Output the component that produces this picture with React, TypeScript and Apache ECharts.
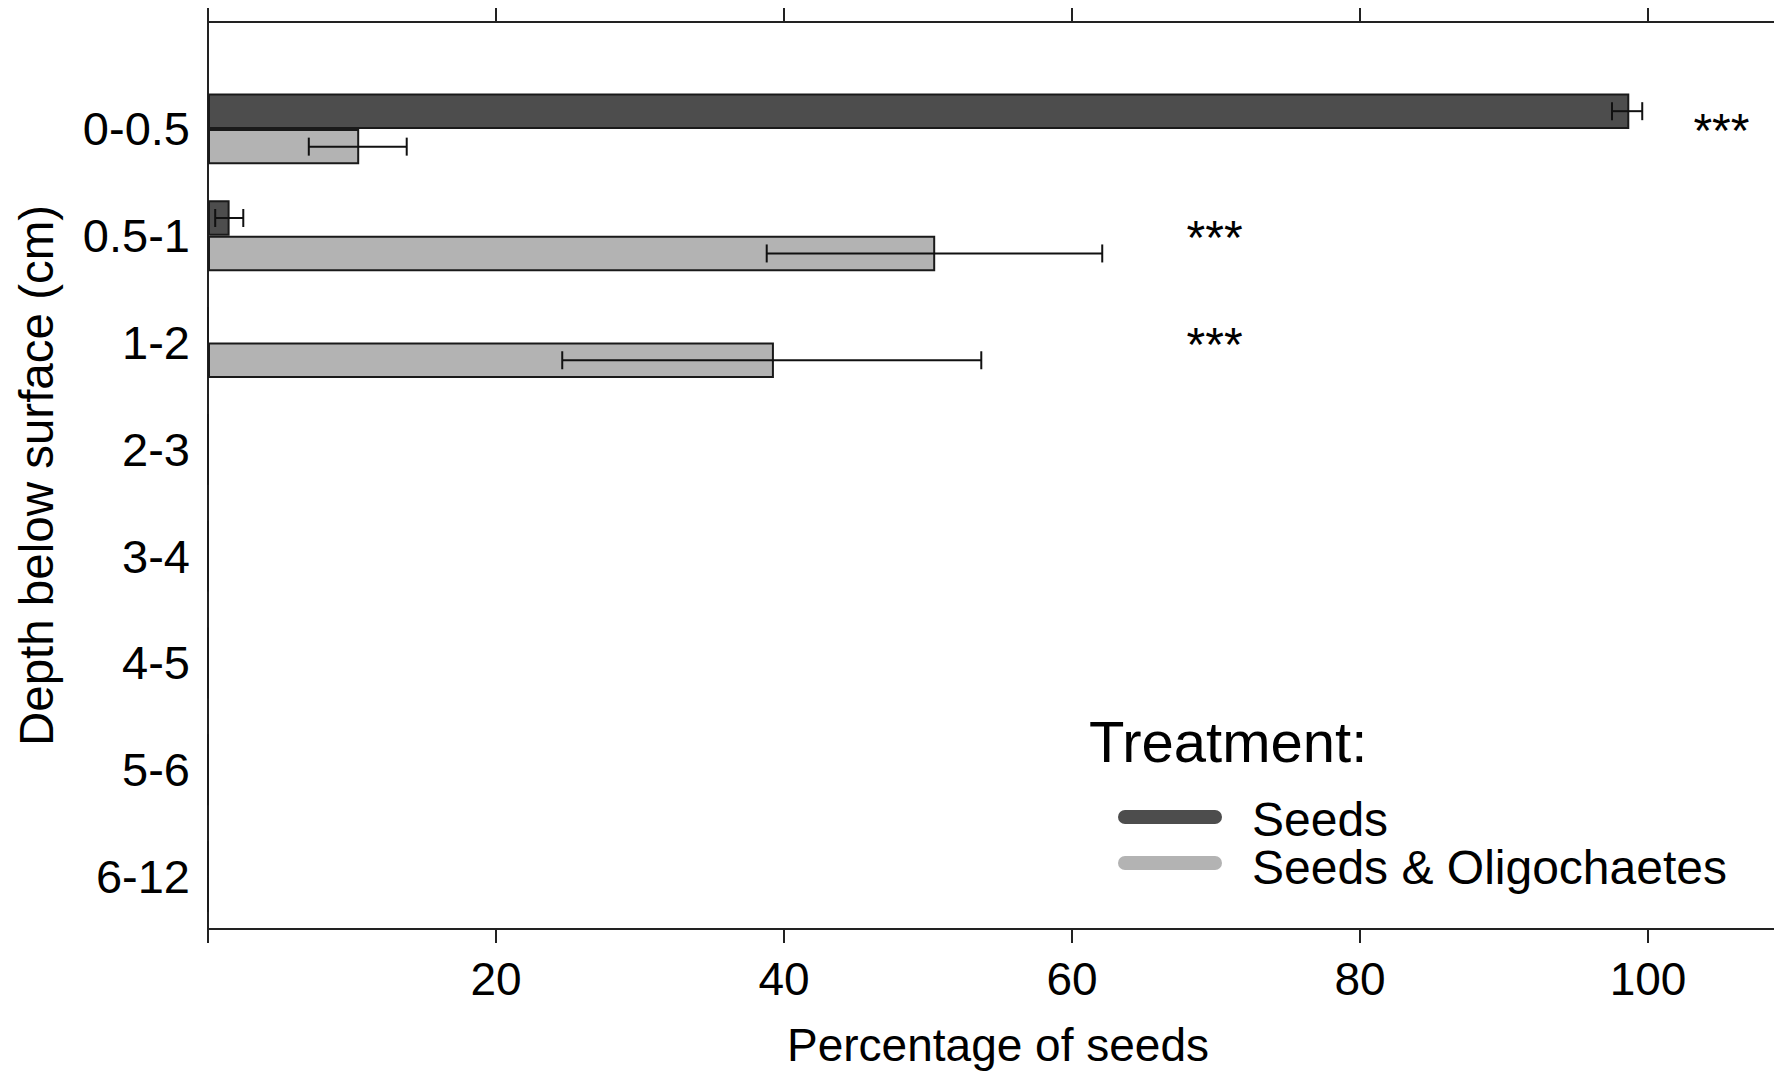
import React, { useEffect, useRef } from "react";
import * as echarts from "echarts";

// ---- data ----
const depthCategories = ["0-0.5", "0.5-1", "1-2", "2-3", "3-4", "4-5", "5-6", "6-12"];
const seriesNames = ["Seeds", "Seeds & Oligochaetes"];
const seedsMean = [98.7, 1.5, 0, 0, 0, 0, 0, 0];
const seedsLow = [97.5, 0.5, null, null, null, null, null, null];
const seedsHigh = [99.6, 2.45, null, null, null, null, null, null];
const oligoMean = [10.5, 50.5, 39.3, 0, 0, 0, 0, 0];
const oligoLow = [7.0, 38.8, 24.6, null, null, null, null, null];
const oligoHigh = [13.8, 62.1, 53.7, null, null, null, null, null];
const sigCategoryIndex = [0, 1, 2];
const sigX = [105.1, 69.9, 69.9];
const sigText = ["***", "***", "***"];
const xTickValues = [0, 20, 40, 60, 80, 100];
const xLabelValues = [20, 40, 60, 80, 100];

const FONT = "'Liberation Sans', Arial, sans-serif";
const DARK = "#4d4d4d";
const LIGHT = "#b3b3b3";
const GAP = 0.336;
const X_MAX = 108.75;

function errData(low: (number | null)[], high: (number | null)[]) {
  const out: any[] = [];
  low.forEach((l, i) => {
    if (l != null && high[i] != null) out.push([i, l, high[i]]);
  });
  return out;
}

function makeErrRender(sign: number) {
  return (params: any, api: any) => {
    const cat = api.value(0);
    const lo = api.value(1);
    const hi = api.value(2);
    const pLo = api.coord([lo, cat]);
    const pHi = api.coord([hi, cat]);
    const band = api.size([0, 1])[1];
    const barW = (band * (1 - GAP)) / 2;
    const y = pLo[1] + (sign * barW) / 2;
    const cap = 9;
    const style = { stroke: "#111", lineWidth: 2 };
    return {
      type: "group",
      children: [
        { type: "line", shape: { x1: pLo[0], y1: y, x2: pHi[0], y2: y }, style },
        { type: "line", shape: { x1: pLo[0], y1: y - cap, x2: pLo[0], y2: y + cap }, style },
        { type: "line", shape: { x1: pHi[0], y1: y - cap, x2: pHi[0], y2: y + cap }, style },
      ],
    };
  };
}

export default function App() {
  const ref = useRef<HTMLDivElement>(null);
  useEffect(() => {
    if (!ref.current) return;
    const chart = echarts.init(ref.current, null, { renderer: "svg" });
    const axisLineStyle = { color: "#222", width: 2 };
    const option: any = {
      animation: false,
      backgroundColor: "#ffffff",
      textStyle: { fontFamily: FONT },
      grid: [
        { left: 208, right: 0, top: 22, bottom: 143 },
        { left: 208, right: 0, top: 75.5, bottom: 143 },
      ],
      xAxis: [
        {
          gridIndex: 0,
          type: "value",
          position: "bottom",
          min: 0,
          max: X_MAX,
          interval: 20,
          name: "Percentage of seeds",
          nameLocation: "middle",
          nameGap: 93,
          nameTextStyle: { fontSize: 46, color: "#000", fontFamily: FONT, padding: [0, 0, 0, 14] },
          axisLine: { show: true, onZero: false, lineStyle: axisLineStyle },
          axisTick: { show: true, inside: false, length: 14, lineStyle: axisLineStyle, customValues: xTickValues },
          axisLabel: { show: true, fontSize: 46, color: "#000", fontFamily: FONT, margin: 27, customValues: xLabelValues },
          splitLine: { show: false },
        },
        {
          gridIndex: 0,
          type: "value",
          position: "top",
          min: 0,
          max: X_MAX,
          interval: 20,
          axisLine: { show: true, onZero: false, lineStyle: axisLineStyle },
          axisTick: { show: true, inside: false, length: 14, lineStyle: axisLineStyle, customValues: xTickValues },
          axisLabel: { show: false },
          splitLine: { show: false },
        },
        {
          gridIndex: 1,
          type: "value",
          min: 0,
          max: X_MAX,
          show: false,
          splitLine: { show: false },
        },
      ],
      yAxis: [
        {
          gridIndex: 0,
          type: "value",
          min: 0,
          max: 1,
          name: "Depth below surface (cm)",
          nameLocation: "middle",
          nameGap: 148,
          nameTextStyle: { fontSize: 47.5, color: "#000", fontFamily: FONT },
          axisLine: { show: true, lineStyle: axisLineStyle },
          axisTick: { show: false },
          axisLabel: { show: false },
          splitLine: { show: false },
        },
        {
          gridIndex: 1,
          type: "category",
          data: depthCategories,
          inverse: true,
          axisLine: { show: false },
          axisTick: { show: false },
          axisLabel: { fontSize: 47, color: "#000", fontFamily: FONT, margin: 18, padding: [7, 0, 0, 0] },
          splitLine: { show: false },
        },
      ],
      series: [
        {
          name: seriesNames[0],
          type: "bar",
          xAxisIndex: 2,
          yAxisIndex: 1,
          data: seedsMean,
          barGap: "0%",
          barCategoryGap: GAP * 100 + "%",
          itemStyle: { color: DARK, borderColor: "#1a1a1a", borderWidth: 2 },
        },
        {
          name: seriesNames[1],
          type: "bar",
          xAxisIndex: 2,
          yAxisIndex: 1,
          data: oligoMean,
          barGap: "0%",
          barCategoryGap: GAP * 100 + "%",
          itemStyle: { color: LIGHT, borderColor: "#1a1a1a", borderWidth: 2 },
        },
        {
          type: "custom",
          xAxisIndex: 2,
          yAxisIndex: 1,
          renderItem: makeErrRender(-1),
          encode: { x: [1, 2], y: 0 },
          data: errData(seedsLow, seedsHigh),
          z: 5,
        },
        {
          type: "custom",
          xAxisIndex: 2,
          yAxisIndex: 1,
          renderItem: makeErrRender(1),
          encode: { x: [1, 2], y: 0 },
          data: errData(oligoLow, oligoHigh),
          z: 5,
        },
        {
          type: "custom",
          xAxisIndex: 2,
          yAxisIndex: 1,
          encode: { x: 1, y: 0 },
          data: sigCategoryIndex.map((c, i) => [c, sigX[i], sigText[i]]),
          renderItem: (params: any, api: any) => {
            const p = api.coord([api.value(1), api.value(0)]);
            return {
              type: "text",
              style: {
                text: sigText[params.dataIndex],
                x: p[0],
                y: p[1] + 2,
                align: "center",
                verticalAlign: "middle",
                fontSize: 48,
                fontFamily: FONT,
                fill: "#000",
              },
            };
          },
          z: 6,
        },
      ],
      graphic: [
        {
          type: "group",
          children: [
            {
              type: "text",
              x: 1089,
              y: 741,
              style: { text: "Treatment:", fontSize: 58, fontFamily: FONT, fill: "#000", verticalAlign: "middle" },
            },
            {
              type: "line",
              shape: { x1: 1125, y1: 817, x2: 1215, y2: 817 },
              style: { stroke: DARK, lineWidth: 14, lineCap: "round" },
            },
            {
              type: "line",
              shape: { x1: 1125, y1: 863, x2: 1215, y2: 863 },
              style: { stroke: LIGHT, lineWidth: 14, lineCap: "round" },
            },
            {
              type: "text",
              x: 1252,
              y: 819,
              style: { text: seriesNames[0], fontSize: 48, fontFamily: FONT, fill: "#000", verticalAlign: "middle" },
            },
            {
              type: "text",
              x: 1252,
              y: 867,
              style: { text: seriesNames[1], fontSize: 48, fontFamily: FONT, fill: "#000", verticalAlign: "middle" },
            },
          ],
        },
      ],
    };
    chart.setOption(option);
    return () => chart.dispose();
  }, []);
  return (
    <div
      ref={ref}
      style={{ position: "absolute", left: 0, top: 0, width: 1774, height: 1073, background: "#fff" }}
    />
  );
}
